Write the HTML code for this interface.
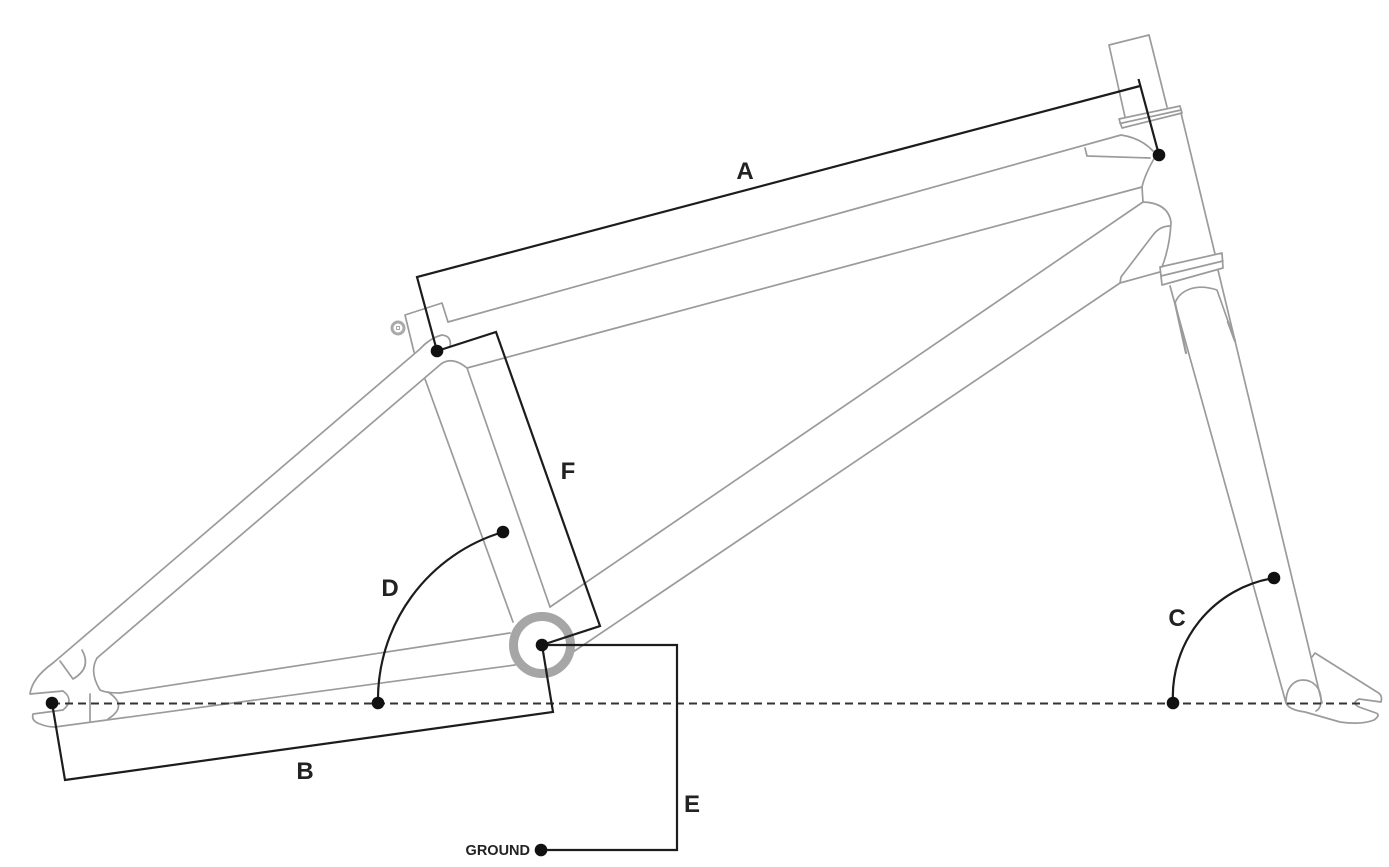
<!DOCTYPE html>
<html>
<head>
<meta charset="utf-8">
<style>
  html, body { margin: 0; padding: 0; background: #ffffff; }
  body { width: 1389px; height: 867px; overflow: hidden; }
  svg { display: block; }
  .lbl { font-family: "Liberation Sans", "DejaVu Sans", sans-serif; font-weight: bold; font-size: 24px; fill: #222; }
  .gnd { font-family: "Liberation Sans", "DejaVu Sans", sans-serif; font-weight: bold; font-size: 14.5px; fill: #222; }
</style>
</head>
<body>
<svg width="1389" height="867" viewBox="0 0 1389 867" xmlns="http://www.w3.org/2000/svg">
  <rect x="0" y="0" width="1389" height="867" fill="#ffffff"/>

  <!-- ===== FRAME (gray outline) ===== -->
  <g fill="none" stroke="#9b9b9b" stroke-width="1.7" stroke-linejoin="round" stroke-linecap="round">
    <!-- steerer -->
    <path d="M1125,117 L1109,45 L1149,35 L1167,107"/>
    <!-- top headset cup -->
    <path d="M1119,119 L1180,106 L1182,113 L1122,128 Z"/>
    <path d="M1120,123.5 L1181,110"/>
    <!-- head tube right edge -->
    <path d="M1181,113 L1215,254"/>
    <!-- lower headset cup -->
    <path d="M1160,267 L1222,253 L1223,268 L1162,285 Z"/>
    <path d="M1161,276 L1223,261"/>
    <!-- fork legs -->
    <path d="M1170,286 L1286,703"/>
    <path d="M1218,270 L1322,703"/>
    <path d="M1175,303 L1186,353" stroke-width="2.2"/>
    <path d="M1175,303 C1180,290 1196,283 1217,290 L1235,341" />
    <path d="M1228,322 L1235,341" stroke-width="2.4"/>
    <!-- fork dropout -->
    <path d="M1286,703 C1286,686 1295,680 1303,680 C1313,680 1322,688 1321,703 Q1320,709 1316,711"/>
    <path d="M1286,703 Q1289,710 1305,712 L1340,722 Q1362,725 1374,720 Q1381,715 1376,713 L1359,707 Q1351,703 1359,699 L1381,702 Q1383,695 1377,692 L1315,653 L1312,657"/>

    <!-- top tube -->
    <path d="M448,322 L1121,135 Q1141,138 1153,151"/>
    <path d="M441,364 Q452,356 467,368 L1142,187 Q1145,174 1155,157"/>
    <path d="M1142,187 L1143,202"/>
    <path d="M1085,148 L1087,156 L1150,158"/>
    <!-- down tube -->
    <path d="M550,607 L1143,202"/>
    <path d="M1143,202 Q1168,203 1171,222 Q1170,246 1162,267"/>
    <path d="M1170,226 Q1160,226 1153,235 L1121,277 L1120,283 L1160,272"/>
    <path d="M573,652 L1120,283"/>

    <!-- seat tube -->
    <path d="M425,379 L513,622"/>
    <path d="M467,368 L550,607"/>
    <!-- seat clamp box -->
    <path d="M414,352 L405,315 L442,303 L448,322"/>
    <!-- seat stays -->
    <path d="M53,663 L420,349 Q430,338 442,335 Q452,336 450,347"/>
    <path d="M97,658 L441,364"/>
    <!-- chainstays -->
    <path d="M97,658 Q89,672 100,690 Q106,693 120,693 L510,633"/>
    <path d="M55,727 L515,665"/>
    <!-- rear dropout -->
    <path d="M53,663 Q32,678 30,694 L63,691 Q75,700 63,710 L33,714 Q31,721 40,724 Q47,727 55,727"/>
    <!-- seat stay tab -->
    <path d="M60,661 L73,679 Q92,668 82,650"/>
    <!-- chainstay tab -->
    <path d="M90,694 L90,721"/>
    <path d="M108,692 Q129,706 108,719"/>
  </g>

  <!-- seat bolt -->
  <circle cx="398" cy="328" r="6" fill="none" stroke="#aaaaaa" stroke-width="3"/>
  <rect x="396.5" y="326.5" width="3" height="3" fill="none" stroke="#aaaaaa" stroke-width="1"/>

  <!-- bottom bracket ring -->
  <circle cx="542" cy="645" r="28.5" fill="none" stroke="#a6a6a6" stroke-width="9"/>

  <!-- ===== dashed axle/ground line ===== -->
  <path d="M52,703.5 L1360,703.5" stroke="#333" stroke-width="2" stroke-dasharray="8 5" fill="none"/>

  <!-- ===== DIMENSION LINES ===== -->
  <g fill="none" stroke="#1c1c1c" stroke-width="2.2" stroke-linejoin="miter" stroke-linecap="butt">
    <!-- A -->
    <path d="M437,351 L417,277 L1140,86"/>
    <path d="M1159,155 L1138.5,79"/>
    <!-- F -->
    <path d="M437,351 L496,332 L600,626 L542,645"/>
    <!-- B -->
    <path d="M52,703 L65,780 L553,712 L542,645"/>
    <!-- E -->
    <path d="M542,645 L677,645 L677,850 L541,850"/>
    <!-- D arc -->
    <path d="M378,703 A175,175 0 0 1 503,532"/>
    <!-- C arc -->
    <path d="M1173,703 A120,120 0 0 1 1274,578"/>
  </g>

  <!-- dots -->
  <g fill="#111">
    <circle cx="52" cy="703" r="6.3"/>
    <circle cx="437" cy="351" r="6.3"/>
    <circle cx="1159" cy="155" r="6.3"/>
    <circle cx="542" cy="645" r="6.3"/>
    <circle cx="503" cy="532" r="6.3"/>
    <circle cx="378" cy="703" r="6.3"/>
    <circle cx="1173" cy="703" r="6.3"/>
    <circle cx="1274" cy="578" r="6.3"/>
    <circle cx="541" cy="850" r="6.3"/>
  </g>

  <!-- labels -->
  <text class="lbl" x="745" y="179" text-anchor="middle">A</text>
  <text class="lbl" x="568" y="479" text-anchor="middle">F</text>
  <text class="lbl" x="390" y="596" text-anchor="middle">D</text>
  <text class="lbl" x="1177" y="626" text-anchor="middle">C</text>
  <text class="lbl" x="305" y="779" text-anchor="middle">B</text>
  <text class="lbl" x="692" y="812" text-anchor="middle">E</text>
  <text class="gnd" x="530" y="855" text-anchor="end">GROUND</text>
</svg>
</body>
</html>
